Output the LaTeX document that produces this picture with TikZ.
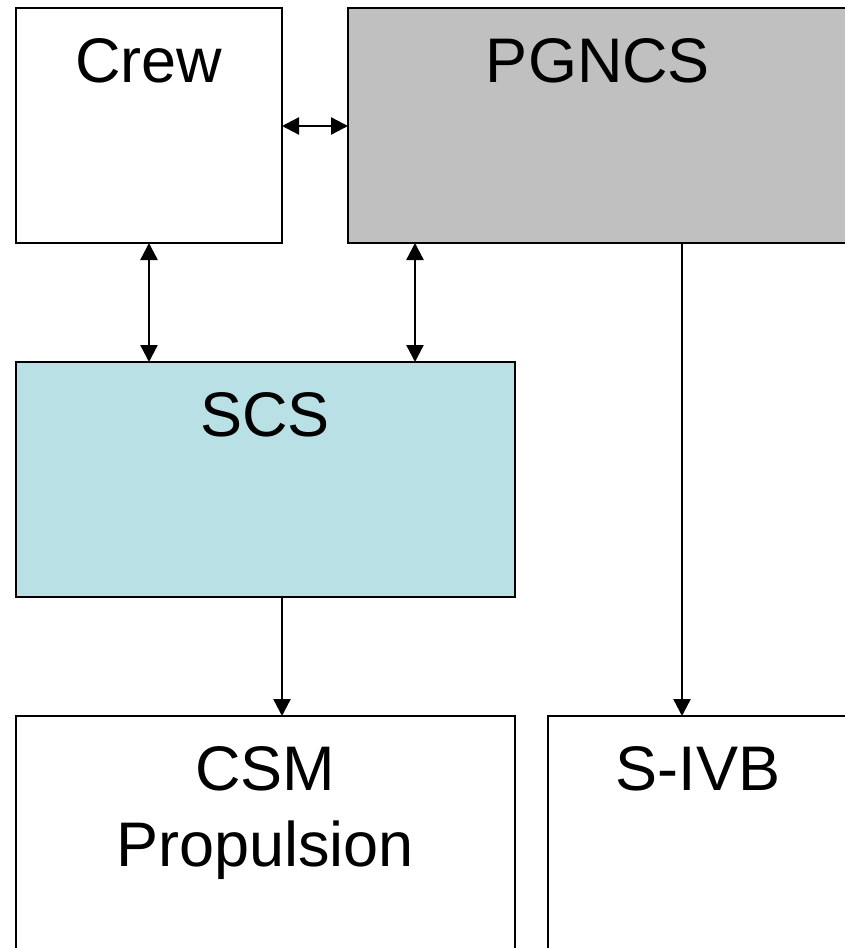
\documentclass[tikz,border=0pt]{standalone}
\usepackage{fontspec}
\setmainfont{Liberation Sans}
\usetikzlibrary{arrows.meta}
\definecolor{pgfill}{RGB}{192,192,192}
\definecolor{scsfill}{RGB}{185,224,228}
\tikzset{
  box/.style={draw=black, line width=2.6pt, anchor=north west, inner sep=0pt, outer sep=0pt},
  lbl/.style={anchor=base, inner sep=0pt, font=\fontsize{63pt}{76pt}\selectfont, align=center},
  tip/.style={Triangle[length=17pt,width=17pt]},
  link/.style={line width=2.4pt, -{Triangle[length=17pt,width=17pt]}},
  dlink/.style={line width=2.4pt, {Triangle[length=17pt,width=17pt]}-{Triangle[length=17pt,width=17pt]}},
}
\begin{document}
\begin{tikzpicture}[x=1pt,y=1pt]
  \useasboundingbox (0,0) rectangle (845,-948);
  \clip (0,0) rectangle (845,-948);
  \fill[white] (0,0) rectangle (845,-948);

  % blocks
  \node[box, fill=white, minimum width=266pt, minimum height=235pt] (crew) at (16,-8) {};
  \node[box, fill=pgfill, minimum width=500pt, minimum height=235pt] (pgncs) at (348,-8) {};
  \node[box, fill=scsfill, minimum width=499pt, minimum height=235pt] (scs) at (16,-362) {};
  \node[box, fill=white, minimum width=499pt, minimum height=300pt] (csm) at (16,-716) {};
  \node[box, fill=white, minimum width=300pt, minimum height=300pt] (sivb) at (548,-716) {};

  % titles (anchored on the baseline of the last line)
  \node[lbl] (tcrew) at (149,-82) {Crew};
  \node[lbl] (tpg) at (598,-82) {PGNCS};
  \node[lbl] (tscs) at (265,-436) {SCS};
  \node[lbl] (tcsm) at (265,-866) {CSM\\Propulsion};
  \node[lbl] (tsivb) at (698,-790) {S-IVB};

  % connector guides
  \coordinate (hy) at (0,-126);
  \coordinate (v1) at (149,0);
  \coordinate (v2) at (415,0);
  \coordinate (v3) at (282,0);
  \coordinate (v4) at (682,0);

  % connectors
  \draw[dlink] (crew.east |- hy) -- (pgncs.west |- hy);
  \draw[dlink] (crew.south -| v1) -- (scs.north -| v1);
  \draw[dlink] (pgncs.south -| v2) -- (scs.north -| v2);
  \draw[link] (scs.south -| v3) -- (csm.north -| v3);
  \draw[link] (pgncs.south -| v4) -- (sivb.north -| v4);
\end{tikzpicture}
\end{document}
